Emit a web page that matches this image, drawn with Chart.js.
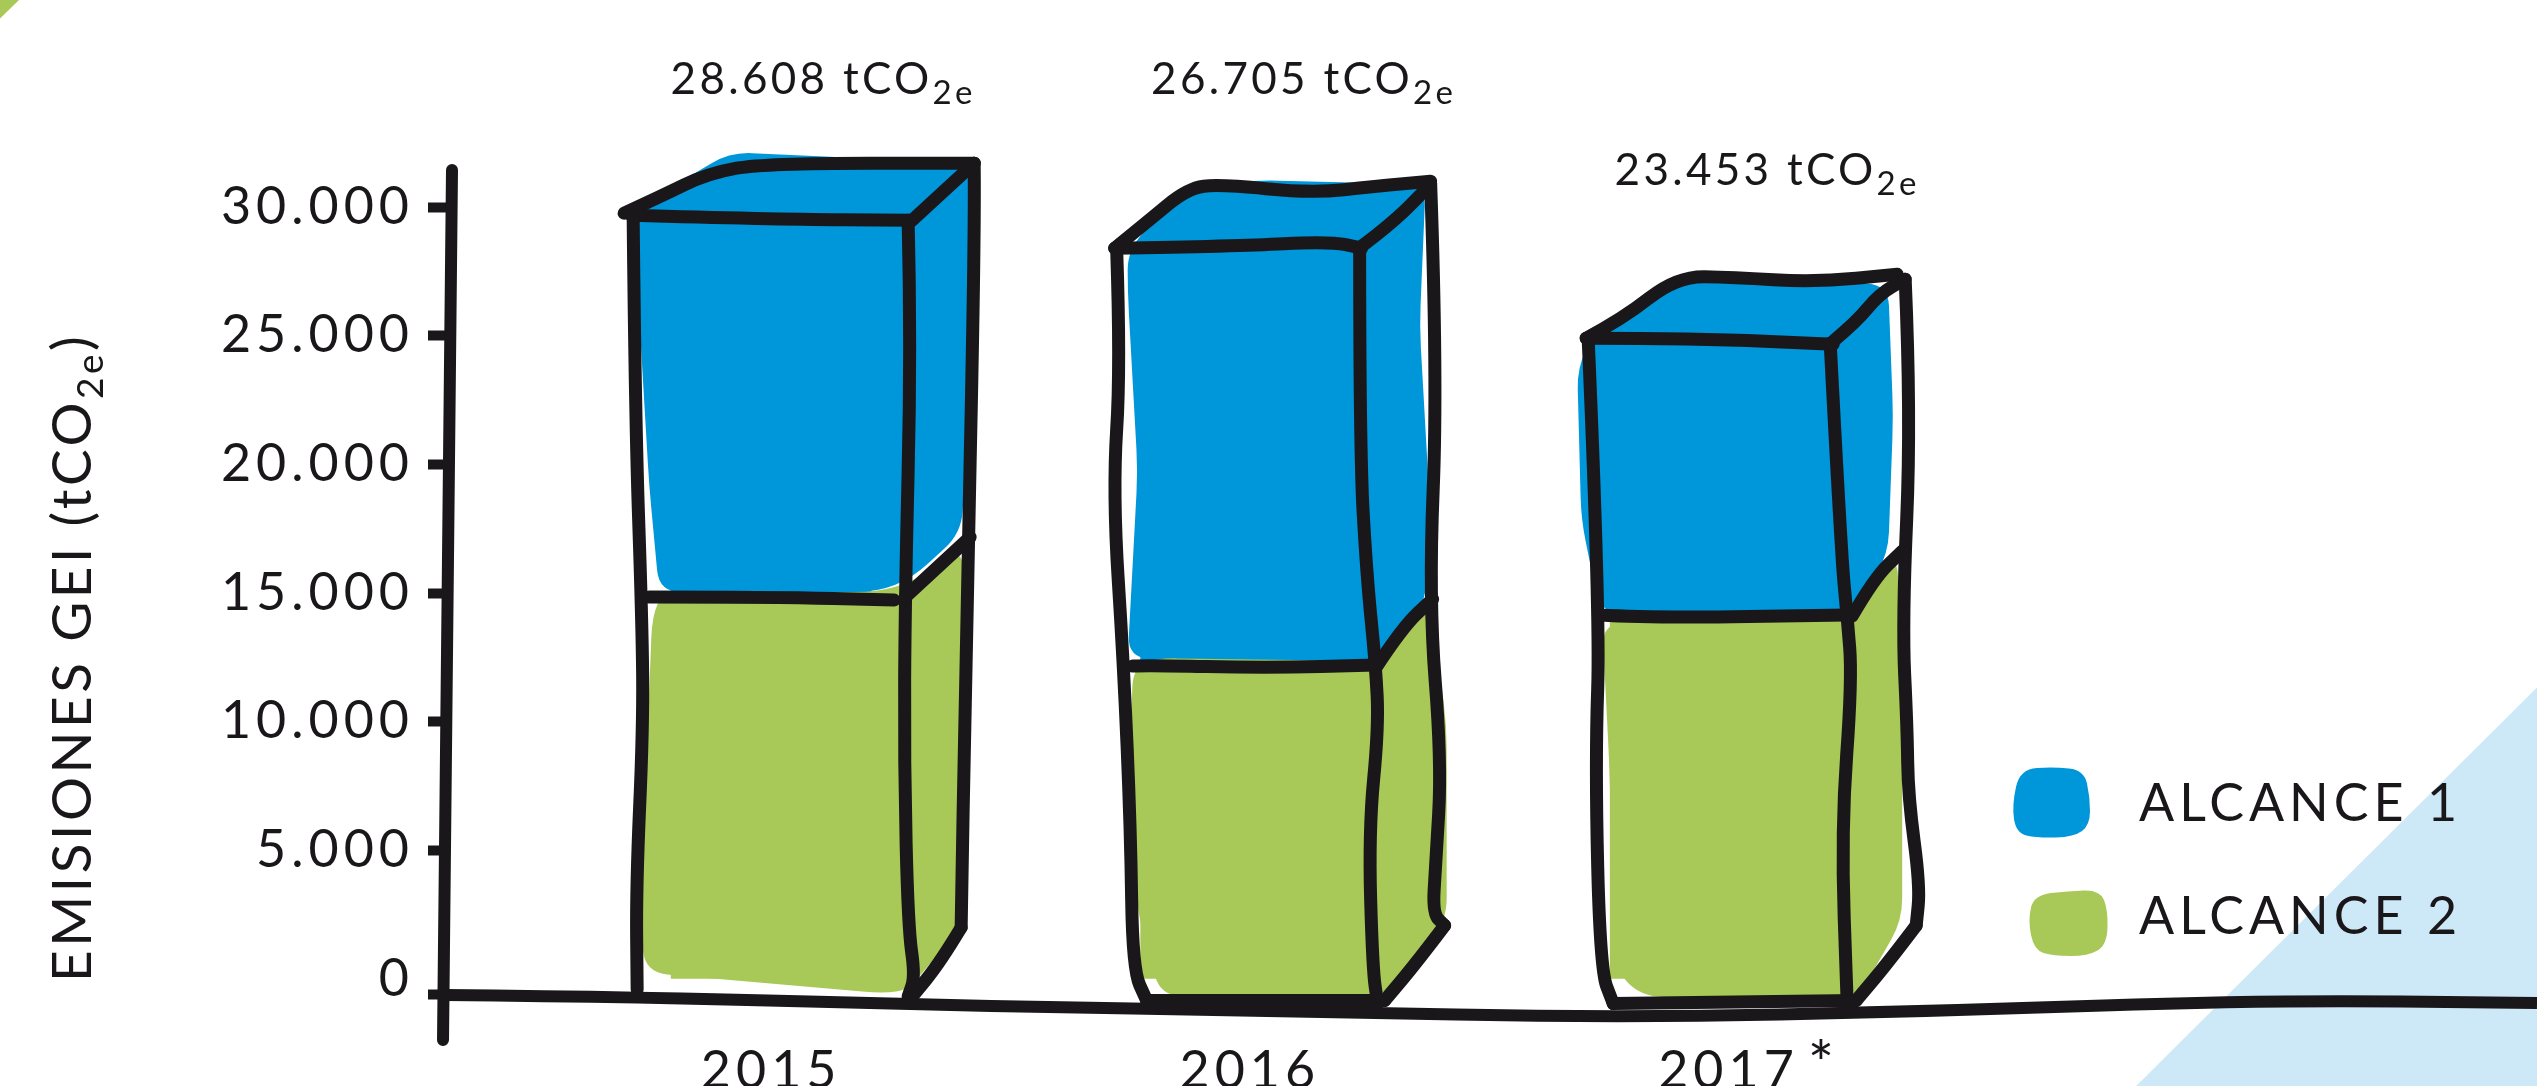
<!DOCTYPE html>
<html lang="es">
<head>
<meta charset="utf-8">
<title>Emisiones GEI</title>
<script src="https://cdn.jsdelivr.net/npm/chart.js@4"></script>
<style>
html,body{margin:0;padding:0;background:#fff;overflow:hidden}
canvas{display:block}
</style>
</head>
<body>
<canvas id="c" width="2537" height="1086"></canvas>
<script>
// ---- data ----
const years = [2015, 2016, 2017];
const yearLabels = ['2015', '2016', '2017'];
const alcance2 = [14763, 12160, 14103];
const alcance1 = [14880, 16240, 10761];
const totalLabels = ['28.608 tCO', '26.705 tCO', '23.453 tCO'];
const yTickValues = [0, 5000, 10000, 15000, 20000, 25000, 30000];
const yTickLabels = ['0', '5.000', '10.000', '15.000', '20.000', '25.000', '30.000'];
const seriesNames = ['ALCANCE 2', 'ALCANCE 1'];

// ---- style ----
const INK = '#1a171b', BLUE = '#0096da', GREEN = '#a8c957', PALE = '#cde9f7';
const FONT = 'Lato';
const AXIS_FLOOR = -620, BASE_DROP = 6;
const yearPad = [0, 1, 2];
const totalOffset = [[52, -137], [63, -169], [57, -169]];

// hand-drawn look: points are [dx from bar centre, anchor (0 top, 1 split, 2 base), dy from anchor]
const sketch = [
 { blue: [[-112,0,-22],[-41,0,-64],[92,0,-58],[204,0,-50],[198,0,200],[190,1,-66],[141,1,-21],[106,1,-7],[-112,1,-7],[-122,1,-114],[-131,0,116],[-136,0,-1]],
   green: [[-119,1,17],[-108,1,-7],[106,1,-7],[141,1,-17],[192,1,-52],[189,2,-57],[148,2,-8],[137,2,5],[113,2,9],[-126,2,-12],[-133,2,-85],[-122,1,94]],
   ink: [
    [[-147,0,-3],[-112,0,-19],[-63,0,-43],[-6,0,-53],[203,0,-53]],
    [[-140,0,-1],[1,0,3],[141,0,4]],
    [[141,0,4],[203,0,-53]],
    [[-138,0,0],[-136,0,200],[-129,1,24],[-128,1,128],[-135,2,-98],[-134,2,5]],
    [[-122,1,-2],[1,1,-2],[123,1,1]],
    [[137,0,4],[140,0,130],[134,1,-3],[133,1,163],[137,2,-57],[144,2,-8],[137,2,12]],
    [[134,1,-2],[199,1,-62]],
    [[203,0,-53],[204,0,13],[194,1,94],[190,2,-57]],
    [[190,2,-57],[169,2,-22],[141,2,12]]
   ]},
 { blue: [[-53,0,-61],[16,0,-68],[185,0,-64],[179,0,78],[188,1,-181],[185,1,-63],[144,1,-1],[-113,1,-8],[-103,1,-195],[-113,0,43],[-113,0,1]],
   green: [[-108,1,2],[-85,1,-8],[135,1,-5],[190,1,-70],[206,1,61],[206,2,-64],[144,2,12],[-80,2,12],[-103,2,-71],[-110,1,96]],
   ink: [
    [[-126,0,0],[-94,0,-26],[-53,0,-60],[-21,0,-64],[71,0,-55],[135,0,-62],[190,0,-67]],
    [[-126,0,0],[-3,0,-2],[89,0,-7],[121,0,0]],
    [[121,0,-2],[153,0,-26],[190,0,-64]],
    [[-124,0,1],[-120,0,119],[-128,1,-174],[-117,1,-1],[-110,2,-154],[-108,2,-15],[-94,2,16]],
    [[-108,1,0],[-94,1,-1],[25,1,2],[135,1,-1]],
    [[119,0,0],[119,0,202],[126,1,-91],[135,1,-1],[138,1,61],[128,2,-154],[132,2,-15],[137,2,19]],
    [[135,1,2],[162,1,-39],[192,1,-67]],
    [[190,0,-64],[197,0,133],[188,1,-67],[201,1,96],[195,2,-119],[192,2,-71],[204,2,-59]],
    [[204,2,-59],[176,2,-22],[144,2,16]],
    [[-94,2,16],[144,2,16]]
   ]},
 { blue: [[-115,0,-7],[-23,0,-62],[178,0,-55],[183,0,77],[178,1,-62],[142,1,0],[-110,1,-3],[-129,1,-97],[-133,0,28]],
   green: [[-108,1,7],[132,1,0],[187,1,-62],[192,1,77],[192,2,-64],[146,2,16],[-69,2,12],[-95,2,-15],[-101,1,146]],
   ink: [
    [[-124,0,-1],[-88,0,-20],[-33,0,-63],[22,0,-62],[105,0,-57],[187,0,-65]],
    [[-124,0,-1],[-14,0,-1],[123,0,5]],
    [[123,0,2],[146,0,-17],[169,0,-45],[195,0,-60]],
    [[-122,0,0],[-110,1,0],[-115,1,146],[-110,2,-15],[-97,2,19]],
    [[-110,1,-1],[-60,1,2],[137,1,-1]],
    [[120,0,4],[131,1,-62],[137,1,0],[142,1,63],[131,2,-154],[137,2,19]],
    [[142,1,0],[164,1,-38],[192,1,-65]],
    [[195,0,-60],[201,0,77],[192,1,7],[197,1,111],[198,2,-188],[210,2,-98],[206,2,-59]],
    [[206,2,-59],[178,2,-22],[146,2,16]],
    [[-97,2,19],[146,2,16]]
   ]}
];
const xWave = [[-5,0],[197,2],[521,11],[844,16],[1168,23],[1492,16],[1815,5],[2087,8]];
const legendBlobs = [
  [[8,2],[42,0],[72,3],[78,30],[78,58],[62,70],[25,71],[4,66],[0,38]],
  [[6,5],[40,1],[72,0],[80,20],[79,55],[60,66],[25,66],[6,60],[0,30]]
];

// closed outline with gently rounded corners
function blob(ctx, pts, r) {
  const n = pts.length;
  const toward = (p, q) => {
    const d = Math.hypot(q[0]-p[0], q[1]-p[1]) || 1, t = Math.min(r/d, 0.5);
    return [p[0]+(q[0]-p[0])*t, p[1]+(q[1]-p[1])*t];
  };
  ctx.beginPath();
  pts.forEach((p, i) => {
    const a = toward(p, pts[(i+n-1)%n]), b = toward(p, pts[(i+1)%n]);
    if (i === 0) ctx.moveTo(a[0], a[1]); else ctx.lineTo(a[0], a[1]);
    ctx.quadraticCurveTo(p[0], p[1], b[0], b[1]);
  });
  ctx.closePath();
}

function smooth(ctx, pts) {
  ctx.beginPath();
  ctx.moveTo(pts[0][0], pts[0][1]);
  for (let i = 1; i < pts.length-1; i++) {
    const p = pts[i], q = pts[i+1];
    ctx.quadraticCurveTo(p[0], p[1], (p[0]+q[0])/2, (p[1]+q[1])/2);
  }
  const l = pts[pts.length-1];
  ctx.lineTo(l[0], l[1]);
}

function rich(ctx, x, y, main, sub, tail, size, subSize, spacing, drop) {
  ctx.letterSpacing = spacing + 'px';
  ctx.textAlign = 'left';
  ctx.textBaseline = 'alphabetic';
  ctx.font = size + 'px ' + FONT;
  ctx.fillText(main, x, y);
  let cx = x + ctx.measureText(main).width;
  ctx.font = subSize + 'px ' + FONT;
  ctx.fillText(sub, cx, y + drop);
  cx += ctx.measureText(sub).width;
  if (tail) { ctx.font = size + 'px ' + FONT; ctx.fillText(tail, cx, y); }
}

const sketchPlugin = {
  id: 'sketch',
  beforeUpdate(chart) { chart.ctx.letterSpacing = '5px'; },
  beforeDraw(chart) {
    const c = chart.ctx, W = chart.width, H = chart.height;
    c.save();
    c.fillStyle = '#fff'; c.fillRect(0, 0, W, H);
    c.fillStyle = PALE;
    c.beginPath(); c.moveTo(W, H*0.633); c.lineTo(W, H); c.lineTo(W*0.842, H); c.closePath(); c.fill();
    c.fillStyle = GREEN;
    c.beginPath(); c.moveTo(0, 0); c.lineTo(W*0.0075, 0); c.lineTo(0, H*0.017); c.closePath(); c.fill();
    c.restore();
    c.letterSpacing = '5px';
  },
  afterDatasetsDraw(chart) {
    const c = chart.ctx, a = chart.chartArea, ys = chart.scales.y;
    const m2 = chart.getDatasetMeta(0).data, m1 = chart.getDatasetMeta(1).data;
    c.save();
    sketch.forEach((s, i) => {
      const anchors = [m1[i].y, m2[i].y, m2[i].base + BASE_DROP], cx = m2[i].x;
      const map = p => [cx + p[0], anchors[p[1]] + p[2]];
      c.fillStyle = BLUE; blob(c, s.blue.map(map), 22); c.fill();
      c.fillStyle = GREEN; blob(c, s.green.map(map), 22); c.fill();
    });
    c.strokeStyle = INK; c.lineCap = 'round'; c.lineJoin = 'round'; c.lineWidth = 13;
    sketch.forEach((s, i) => {
      const anchors = [m1[i].y, m2[i].y, m2[i].base + BASE_DROP], cx = m2[i].x;
      s.ink.forEach(path => {
        smooth(c, path.map(p => [cx + p[0], anchors[p[1]] + p[2]]));
        c.stroke();
      });
    });
    // hand-drawn axes
    c.lineWidth = 12;
    c.beginPath(); c.moveTo(a.left + 2, a.top); c.lineTo(a.left - 7, a.bottom); c.stroke();
    const y0 = ys.getPixelForValue(AXIS_FLOOR);
    c.lineCap = 'butt';
    smooth(c, xWave.map(p => [a.left + p[0], y0 + p[1]])); c.stroke();
    c.restore();
  },
  afterDraw(chart) {
    const c = chart.ctx, m1 = chart.getDatasetMeta(1).data;
    c.save();
    c.fillStyle = INK;
    // totals
    totalLabels.forEach((t, i) => {
      const size = 44, sub = 33, sp = 3.3;
      c.letterSpacing = sp + 'px'; c.font = size + 'px ' + FONT;
      let w = c.measureText(t).width;
      c.font = sub + 'px ' + FONT;
      w += c.measureText('2e').width;
      const x = m1[i].x + totalOffset[i][0] - w/2, y = m1[i].y + totalOffset[i][1] + 15;
      rich(c, x, y, t, '2e', '', size, sub, sp, 10);
    });
    // axis title
    c.save();
    c.translate(91, 982);
    c.rotate(-Math.PI/2);
    rich(c, 0, 0, 'EMISIONES GEI (tCO', '2e', ')', 55, 37, 3.5, 12);
    c.restore();
    // asterisk of last year
    c.letterSpacing = '0px'; c.textAlign = 'center'; c.textBaseline = 'alphabetic';
    c.font = '62px ' + FONT;
    c.fillText('*', 1821, 1086);
    // legend
    const names = [seriesNames[1], seriesNames[0]], cols = [BLUE, GREEN];
    const bx = [2012, 2028], by = [767, 890], ty = [804, 917];
    names.forEach((n, i) => {
      c.fillStyle = cols[i];
      blob(c, legendBlobs[i].map(p => [bx[i] + p[0], by[i] + p[1]]), 18); c.fill();
      c.fillStyle = INK;
      c.font = '52px ' + FONT; c.letterSpacing = '5px';
      c.textAlign = 'left'; c.textBaseline = 'middle';
      c.fillText(n, 2139, ty[i]);
    });
    c.restore();
  }
};

new Chart(document.getElementById('c').getContext('2d'), {
  type: 'bar',
  plugins: [sketchPlugin],
  data: {
    datasets: [
      { label: seriesNames[0], data: years.map((x, i) => ({x, y: alcance2[i]})), backgroundColor: GREEN, stack: 'a', barThickness: 200 },
      { label: seriesNames[1], data: years.map((x, i) => ({x, y: alcance1[i]})), backgroundColor: BLUE, stack: 'a', barThickness: 200 }
    ]
  },
  options: {
    responsive: false,
    devicePixelRatio: 1,
    animation: false,
    layout: { padding: { top: 170 } },
    plugins: { legend: { display: false }, tooltip: { enabled: false }, title: { display: false } },
    scales: {
      x: {
        type: 'linear', offset: false, min: 2014.316, max: 2018.761,
        afterBuildTicks(s) { s.ticks = years.map(v => ({ value: v })); },
        afterFit(s) { s.height = 46; },
        grid: { display: false, drawTicks: false }, border: { display: false },
        ticks: {
          autoSkip: false, maxRotation: 0, minRotation: 0, padding: 5, color: INK,
          font: { family: FONT, size: 52, lineHeight: 1 },
          callback(v) { const i = years.indexOf(v); return i < 0 ? '' : ' '.repeat(yearPad[i]) + yearLabels[i]; }
        }
      },
      y: {
        stacked: true, min: -2370, max: 31438,
        afterBuildTicks(s) { s.ticks = [AXIS_FLOOR].concat(yTickValues).map(v => ({ value: v })); },
        afterFit(s) { s.width = 450; },
        border: { display: false },
        grid: {
          drawOnChartArea: false, drawTicks: true, tickLength: 22, tickWidth: 10,
          tickColor: ctx => ctx.tick && ctx.tick.value === 0 ? 'rgba(0,0,0,0)' : INK
        },
        ticks: {
          autoSkip: false, padding: 14, color: INK,
          font: { family: FONT, size: 52, lineHeight: 1 },
          callback(v) { const i = yTickValues.indexOf(v); return i < 0 ? '' : yTickLabels[i]; }
        }
      }
    }
  }
});
</script>
</body>
</html>
